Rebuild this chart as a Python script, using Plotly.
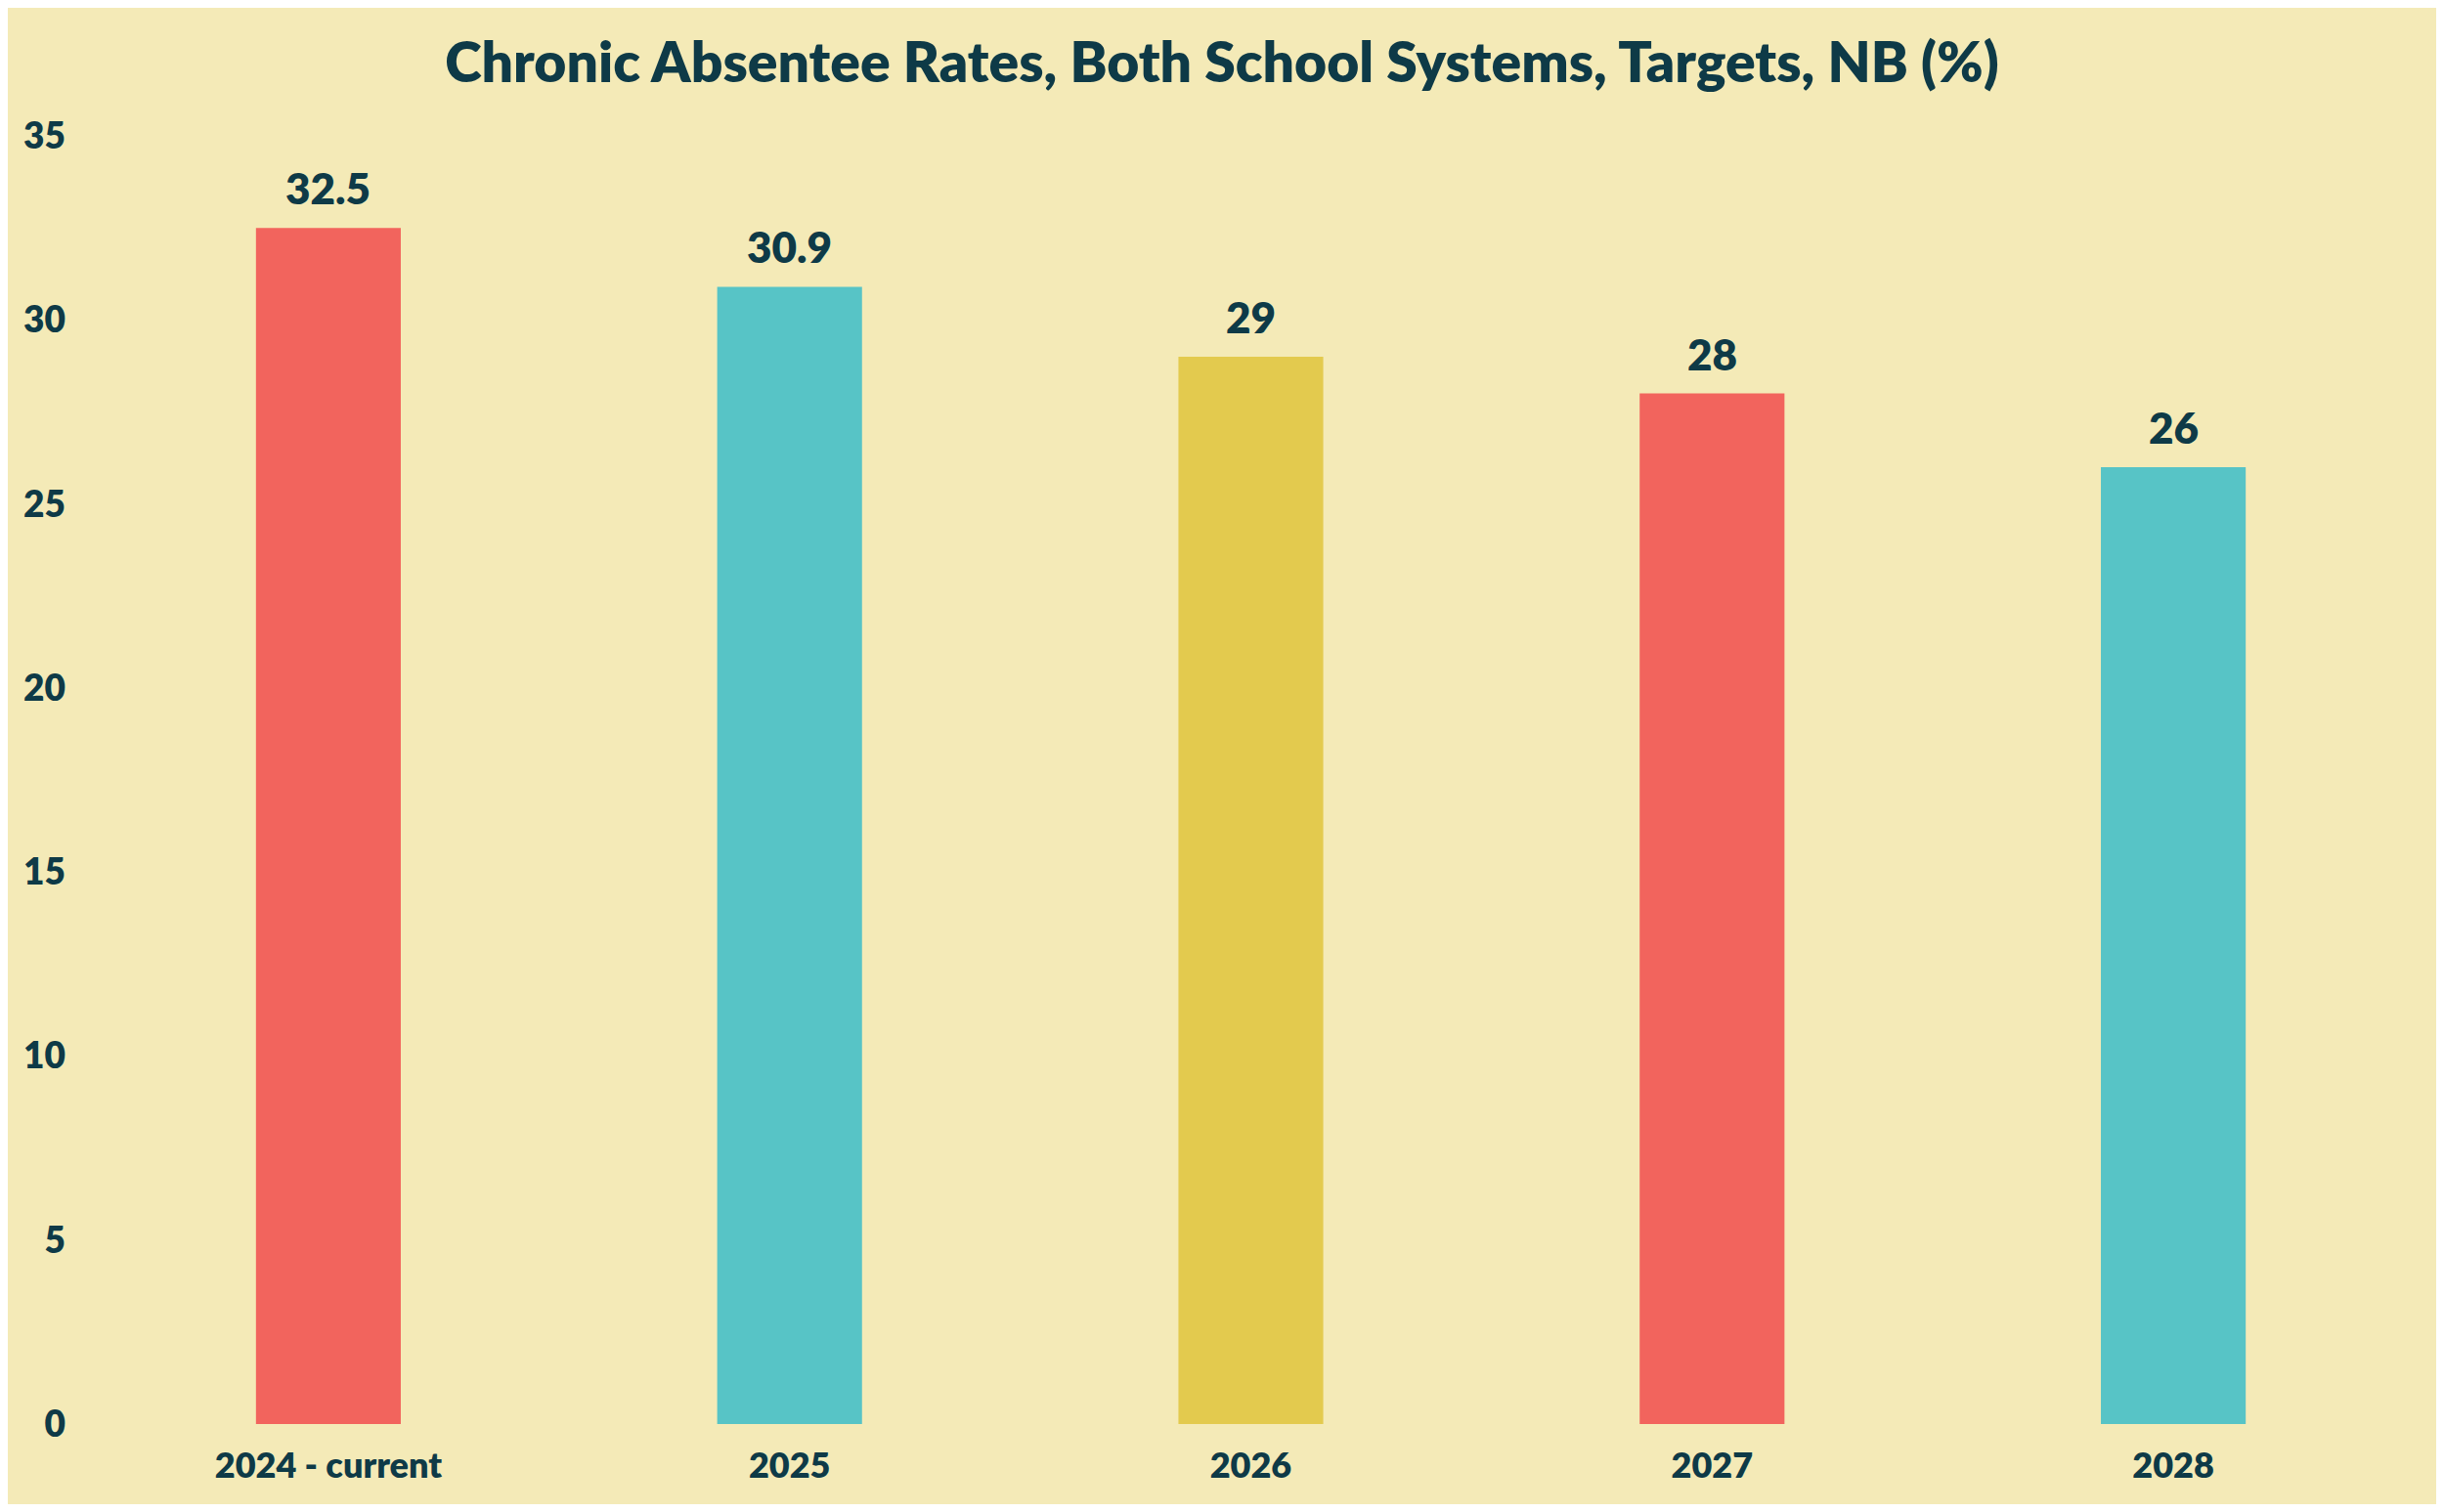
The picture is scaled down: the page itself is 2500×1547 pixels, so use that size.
import plotly.graph_objects as go

categories = ["2024 - current", "2025", "2026", "2027", "2028"]
values = [32.5, 30.9, 29, 28, 26]
bar_colors = ["#F2645D", "#57C4C6", "#E3CA4E", "#F2645D", "#57C4C6"]
value_labels = ["32.5", "30.9", "29", "28", "26"]
title_text = "Chronic Absentee Rates, Both School Systems, Targets, NB (%)"

BG = "#F4EAB7"
INK = "#0E3A47"
FONT = "Lato"

# the page body adds an 8px margin around the figure, so the figure is
# sized to fit inside the 2500x1547 window exactly
W, H, PAD = 2500 - 16, 1547 - 16, 8

fig = go.Figure()
fig.add_trace(go.Bar(
    x=categories,
    y=values,
    marker=dict(color=bar_colors, line=dict(width=0)),
    width=0.314,
    hoverinfo="skip",
))

# category axis: annotations positioned by category index
for i, (v, t) in enumerate(zip(values, value_labels)):
    fig.add_annotation(
        x=i, y=v, text=t, showarrow=False,
        yanchor="bottom", yshift=13,
        font=dict(family=FONT, size=44, color=INK, weight=800),
    )

fig.update_layout(
    width=W, height=H,
    paper_bgcolor=BG, plot_bgcolor=BG,
    margin=dict(l=100 - PAD, r=41 - PAD, t=139 - PAD, b=90 - PAD),
    title=dict(
        text=title_text,
        x=0.5, xanchor="center", y=1 - (64 - PAD) / H, yanchor="middle",
        font=dict(family=FONT, size=57, color=INK, weight=800),
    ),
    showlegend=False,
    xaxis=dict(
        type="category", range=[-0.5, len(categories) - 0.5],
        showgrid=False, zeroline=False, showline=False, ticks="",
        ticklabelstandoff=18,
        tickfont=dict(family=FONT, size=36, color=INK, weight=800),
    ),
    yaxis=dict(
        range=[0, 35], dtick=5, showgrid=False, zeroline=False, showline=False,
        ticks="", ticklabelstandoff=32,
        tickfont=dict(family=FONT, size=37, color=INK, weight=800),
    ),
)

fig.write_html("out.html")
